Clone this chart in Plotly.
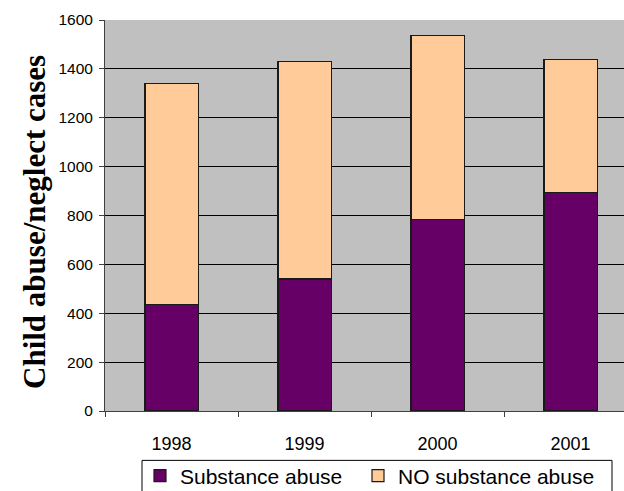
import plotly.graph_objects as go

# Child abuse / neglect cases by year, split by substance abuse involvement
years = ["1998", "1999", "2000", "2001"]
substance_abuse = [435, 540, 785, 895]
no_substance_abuse = [905, 890, 750, 545]
y_ticks = [0, 200, 400, 600, 800, 1000, 1200, 1400, 1600]

SANS = "Liberation Sans, Arial, sans-serif"
SERIF = "Liberation Serif, Times New Roman, serif"
BAR_EDGE = dict(color="#1a1a1a", width=1.2)

W, H = 624, 491
M_L, M_R, M_T, M_B = 105, 0, 19.5, 79.5
PLOT_W = W - M_L - M_R
PLOT_H = H - M_T - M_B


def px_to_paper(x_px, y_px):
    """Convert page pixel position to paper coordinates of the plot area."""
    return (x_px - M_L) / PLOT_W, (H - M_B - y_px) / PLOT_H


fig = go.Figure()
fig.add_trace(go.Bar(
    x=years, y=substance_abuse, name="Substance abuse",
    marker=dict(color="#660066", line=BAR_EDGE), width=0.4,
    legend="legend",
))
fig.add_trace(go.Bar(
    x=years, y=no_substance_abuse, name="NO substance abuse",
    marker=dict(color="#FFCC99", line=BAR_EDGE), width=0.4,
    legend="legend2",
))

# rotated axis title
tx, ty = px_to_paper(35, 222)
fig.add_annotation(
    text="<b>Child abuse/neglect cases</b>",
    xref="paper", yref="paper", x=tx, y=ty,
    xanchor="center", yanchor="middle",
    textangle=-90, showarrow=False,
    font=dict(family=SERIF, size=31, color="black"),
)

# legend frame
lx0, ly0 = px_to_paper(142, 461)
lx1, ly1 = px_to_paper(612, 500)
fig.add_shape(
    type="rect", xref="paper", yref="paper",
    x0=lx0, x1=lx1, y0=ly1, y1=ly0,
    line=dict(color="black", width=1), fillcolor="white", layer="below",
)

leg_style = dict(
    orientation="h", xanchor="left", yanchor="top",
    bgcolor="rgba(0,0,0,0)", borderwidth=0,
    font=dict(family=SANS, size=21),
)
l1x, l1y = px_to_paper(140, 456)
l2x, l2y = px_to_paper(358, 456)

fig.update_layout(
    width=W, height=H,
    barmode="stack",
    paper_bgcolor="white",
    plot_bgcolor="#C0C0C0",
    margin=dict(l=M_L, r=M_R, t=M_T, b=M_B, autoexpand=False),
    font=dict(family=SANS, color="black"),
    xaxis=dict(
        type="category",
        range=[-0.5, 3.402],
        showline=True, linecolor="#404040", linewidth=1,
        ticks="outside", tickson="boundaries", ticklen=5, tickcolor="#404040",
        tickfont=dict(family=SANS, size=18),
        ticklabelstandoff=16,
        showgrid=False,
    ),
    yaxis=dict(
        range=[0, 1600],
        tickvals=y_ticks,
        showline=True, linecolor="#404040", linewidth=1,
        ticks="outside", ticklen=5, tickcolor="#404040",
        tickfont=dict(family=SANS, size=15.5),
        ticklabelstandoff=3,
        showgrid=True, gridcolor="black", gridwidth=1,
        zeroline=False,
    ),
    legend=dict(x=l1x, y=l1y, **leg_style),
    legend2=dict(x=l2x, y=l2y, **leg_style),
    showlegend=True,
)

fig.write_html("out.html")
